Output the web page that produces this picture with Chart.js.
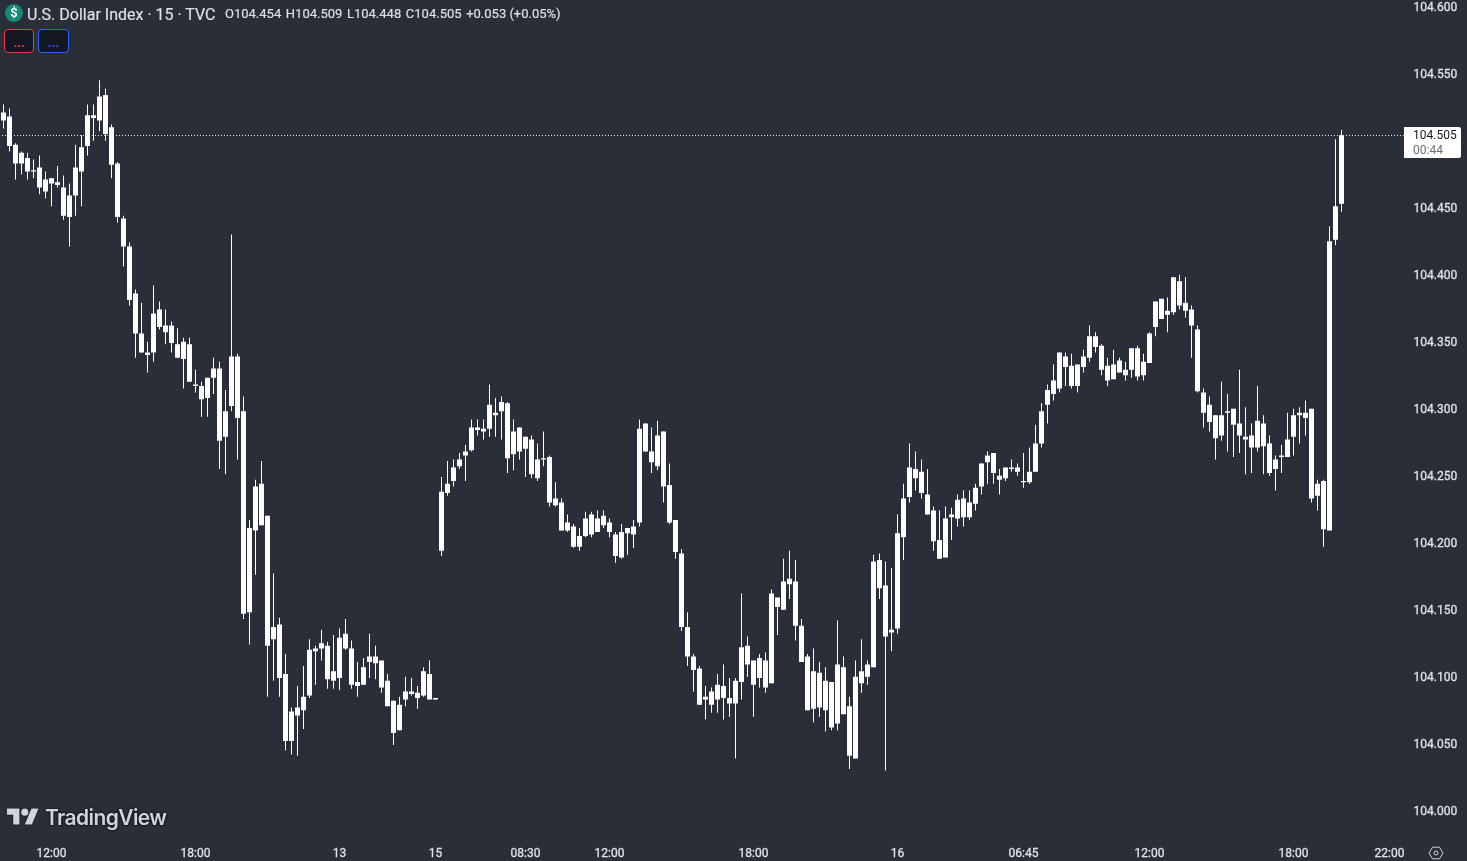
<!DOCTYPE html>
<html><head><meta charset="utf-8">
<script src="https://cdn.jsdelivr.net/npm/chart.js@4"></script>
<style>
html,body{margin:0;padding:0;background:#2a2e39;width:1467px;height:861px;overflow:hidden;font-family:Roboto,sans-serif}
#wrap{position:relative;width:1467px;height:861px}
canvas{position:absolute;left:0;top:0}
.abs{position:absolute;white-space:nowrap}
#badge{left:5px;top:4px;width:18px;height:18px;border-radius:50%;background:#168a76;color:#fff;font:700 13px/18px Roboto;text-align:center}
#title{left:27px;top:4.5px;font:400 16px/20px Roboto;color:#dfe1e8;-webkit-text-stroke:.15px #dfe1e8}
#ohlc{left:225px;top:5px;font:400 13px/18px Roboto;color:#dfe1e8;-webkit-text-stroke:.15px #dfe1e8}
#ohlc span{margin-right:4.6px}
.btn{top:29px;height:24px;box-sizing:border-box;border-radius:4px;background:#131722;font:700 13px/25px Roboto;text-align:center;border:1px solid}
#b1{left:4px;width:30px;border-color:#f23645;color:#f23645}
#b2{left:38px;width:31px;border-color:#2962ff;color:#2962ff}
#tvtext{left:45px;top:804px;font:600 21px/28px Inter;color:#d1d4dc;text-shadow:0 0 2px #131722,0 0 2px #131722,0 0 2px #131722,0 0 1px #131722;letter-spacing:-.6px}
#last{left:1404px;top:127px;width:57px;height:31px;background:#fff;border-radius:0 2px 2px 0}
#lastp{left:1413px;top:128px;font:400 12px/15px Roboto;color:#131722}
#lastt{left:1413px;top:143px;font:400 12px/15px Roboto;color:#6a6d78}
</style></head><body>
<div id="wrap">
<canvas id="c" width="1467" height="861"></canvas>
<div class="abs" id="badge">$</div>
<div class="abs" id="title">U.S. Dollar Index · 15 · TVC</div>
<div class="abs" id="ohlc"><span>O104.454</span><span>H104.509</span><span>L104.448</span><span>C104.505</span><span>+0.053 (+0.05%)</span></div>
<div class="abs btn" id="b1">...</div>
<div class="abs btn" id="b2">...</div>
<svg class="abs" style="left:7px;top:805px" width="32" height="25" viewBox="0 0 36 28"><g fill="#d1d4dc" stroke="#131722" stroke-width="1.5" paint-order="stroke"><path d="M14 22H7V11H0V4h14v18z"/><path d="M28 22h-8l7.5-18h8L28 22z"/><circle cx="20" cy="8" r="4"/></g></svg>
<div class="abs" id="tvtext">TradingView</div>
<div class="abs" id="last"></div>
<div class="abs" id="lastp">104.505</div>
<div class="abs" id="lastt">00:44</div>
<svg class="abs" style="left:1428px;top:845px" width="16" height="16" viewBox="0 0 16 16"><path d="M4.5 2.2h7L15 8l-3.5 5.8h-7L1 8z" fill="none" stroke="#d1d4dc" stroke-width="1"/><circle cx="8" cy="8" r="2" fill="none" stroke="#d1d4dc" stroke-width="1"/></svg>
</div>
<script>
const opens=[104.516,104.519,104.498,104.484,104.488,104.478,104.481,104.463,104.473,104.470,
104.466,104.444,104.460,104.478,104.497,104.518,104.516,104.535,104.511,104.484,
104.443,104.422,104.387,104.357,104.343,104.343,104.375,104.363,104.363,104.349,
104.338,104.349,104.319,104.318,104.309,104.324,104.331,104.280,104.303,104.340,
104.299,104.149,104.210,104.245,104.221,104.129,104.140,104.103,104.053,104.078,
104.076,104.087,104.120,104.122,104.124,104.098,104.100,104.133,104.122,104.094,
104.095,104.112,104.116,104.113,104.098,104.083,104.061,104.084,104.090,104.089,
104.087,104.103,104.084,104.195,104.238,104.247,104.258,104.266,104.270,104.287,
104.286,104.286,104.298,104.299,104.305,104.267,104.287,104.271,104.278,104.249,
104.263,104.265,104.229,104.231,104.210,104.213,104.198,104.206,104.222,104.209,
104.221,104.216,104.207,104.190,104.208,104.213,104.216,104.290,104.269,104.258,
104.284,104.244,104.218,104.193,104.138,104.116,104.107,104.084,104.090,104.084,
104.094,104.085,104.081,104.097,104.124,104.113,104.100,104.113,104.096,104.160,
104.151,104.170,104.172,104.139,104.116,104.077,104.104,104.076,104.097,104.066,
104.108,104.079,104.040,104.096,104.101,104.108,104.188,104.169,104.134,104.137,
104.205,104.235,104.256,104.254,104.237,104.225,104.203,104.190,104.220,104.219,
104.234,104.220,104.230,104.243,104.261,104.268,104.251,104.249,104.257,104.257,
104.247,104.246,104.254,104.275,104.304,104.312,104.316,104.340,104.333,104.318,
104.332,104.339,104.355,104.348,104.333,104.323,104.337,104.330,104.330,104.346,
104.326,104.335,104.362,104.383,104.371,104.373,104.396,104.380,104.375,104.360,
104.313,104.304,104.296,104.281,104.298,104.301,104.290,104.280,104.281,104.272,
104.290,104.275,104.256,104.265,104.265,104.280,104.296,104.298,104.301,104.236,
104.247,104.210,104.427,104.454];
const highs=[104.528,104.525,104.499,104.493,104.492,104.487,104.490,104.478,104.473,104.482,
104.475,104.469,104.498,104.505,104.528,104.528,104.546,104.540,104.513,104.485,
104.445,104.425,104.390,104.380,104.351,104.393,104.381,104.375,104.366,104.361,
104.354,104.354,104.330,104.321,104.324,104.339,104.336,104.315,104.431,104.342,
104.310,104.218,104.248,104.262,104.221,104.178,104.145,104.118,104.078,104.094,
104.109,104.129,104.124,104.136,104.127,104.132,104.137,104.144,104.128,104.112,
104.115,104.133,104.124,104.113,104.103,104.083,104.086,104.101,104.100,104.094,
104.108,104.113,104.085,104.250,104.262,104.263,104.268,104.274,104.293,104.293,
104.293,104.319,104.309,104.310,104.306,104.293,104.287,104.280,104.281,104.275,
104.284,104.266,104.246,104.234,104.222,104.215,104.212,104.224,104.224,104.225,
104.225,104.219,104.209,104.215,104.212,104.218,104.293,104.290,104.287,104.292,
104.284,104.260,104.218,104.196,104.149,104.118,104.109,104.094,104.093,104.103,
104.110,104.100,104.100,104.163,104.131,104.113,104.118,104.119,104.166,104.160,
104.189,104.195,104.188,104.144,104.118,104.122,104.112,104.108,104.097,104.143,
104.116,104.086,104.113,104.129,104.113,104.192,104.193,104.187,104.182,104.222,
104.245,104.275,104.269,104.263,104.256,104.228,104.225,104.228,104.227,104.237,
104.240,104.240,104.245,104.260,104.269,104.268,104.256,104.257,104.263,104.260,
104.268,104.272,104.289,104.305,104.319,104.334,104.343,104.343,104.342,104.334,
104.345,104.363,104.358,104.349,104.339,104.345,104.339,104.336,104.346,104.348,
104.342,104.358,104.381,104.383,104.384,104.399,104.401,104.399,104.378,104.363,
104.316,104.310,104.296,104.321,104.312,104.301,104.330,104.302,104.290,104.318,
104.296,104.281,104.266,104.274,104.298,104.301,104.302,104.307,104.301,104.248,
104.248,104.437,104.502,104.509];
const lows=[104.510,104.493,104.472,104.476,104.472,104.473,104.461,104.458,104.452,104.466,
104.442,104.422,104.445,104.452,104.490,104.501,104.508,104.501,104.473,104.440,
104.407,104.378,104.339,104.343,104.328,104.336,104.360,104.349,104.343,104.339,
104.316,104.321,104.313,104.295,104.295,104.312,104.256,104.252,104.299,104.263,
104.144,104.125,104.177,104.214,104.086,104.098,104.086,104.046,104.043,104.042,
104.062,104.085,104.095,104.113,104.092,104.092,104.091,104.121,104.092,104.086,
104.095,104.100,104.099,104.089,104.079,104.050,104.061,104.079,104.087,104.077,
104.086,104.084,104.084,104.191,104.236,104.243,104.256,104.247,104.269,104.281,
104.278,104.280,104.280,104.278,104.253,104.255,104.263,104.250,104.249,104.247,
104.258,104.228,104.228,104.210,104.209,104.197,104.195,104.205,104.205,104.209,
104.212,104.205,104.186,104.189,104.192,104.197,104.213,104.269,104.253,104.255,
104.231,104.215,104.189,104.135,104.109,104.090,104.080,104.069,104.074,104.074,
104.069,104.071,104.040,104.084,104.101,104.071,104.093,104.089,104.096,104.132,
104.151,104.159,104.128,104.112,104.076,104.067,104.071,104.060,104.061,104.061,
104.073,104.032,104.040,104.089,104.095,104.108,104.159,104.031,104.120,104.133,
104.188,104.231,104.240,104.234,104.222,104.195,104.189,104.190,104.203,104.213,
104.213,104.218,104.225,104.237,104.245,104.245,104.237,104.247,104.254,104.251,
104.242,104.245,104.254,104.272,104.290,104.307,104.313,104.318,104.316,104.313,
104.328,104.336,104.343,104.326,104.318,104.323,104.328,104.322,104.324,104.322,
104.322,104.335,104.355,104.368,104.358,104.371,104.375,104.369,104.339,104.313,
104.287,104.284,104.263,104.277,104.269,104.265,104.268,104.252,104.253,104.269,
104.252,104.251,104.240,104.253,104.265,104.266,104.275,104.281,104.231,104.225,
104.198,104.210,104.423,104.448];
const closes=[104.522,104.497,104.484,104.492,104.478,104.479,104.466,104.472,104.469,104.468,
104.445,104.460,104.481,104.496,104.520,104.520,104.534,104.506,104.483,104.444,
104.422,104.382,104.357,104.343,104.341,104.372,104.362,104.358,104.350,104.339,
104.351,104.321,104.318,104.308,104.324,104.331,104.277,104.299,104.340,104.294,
104.148,104.212,104.243,104.214,104.124,104.138,104.100,104.053,104.075,104.072,
104.086,104.121,104.122,104.126,104.099,104.105,104.130,104.122,104.095,104.097,
104.108,104.116,104.111,104.093,104.079,104.059,104.080,104.090,104.088,104.085,
104.105,104.084,104.085,104.239,104.245,104.257,104.263,104.269,104.287,104.285,
104.284,104.304,104.296,104.306,104.264,104.284,104.269,104.280,104.252,104.263,
104.264,104.231,104.234,104.210,104.216,104.198,104.206,104.219,104.207,104.219,
104.214,104.209,104.191,104.209,104.212,104.207,104.286,104.269,104.261,104.281,
104.243,104.216,104.194,104.138,104.116,104.106,104.080,104.086,104.080,104.095,
104.085,104.081,104.098,104.123,104.110,104.095,104.115,104.093,104.163,104.153,
104.172,104.174,104.139,104.112,104.076,104.105,104.078,104.098,104.063,104.110,
104.073,104.042,104.101,104.105,104.110,104.187,104.167,104.131,104.136,104.208,
104.234,104.257,104.249,104.238,104.222,104.202,104.189,104.219,104.222,104.233,
104.220,104.231,104.242,104.260,104.266,104.253,104.248,104.257,104.256,104.254,
104.246,104.254,104.275,104.299,104.315,104.322,104.343,104.332,104.318,104.334,
104.340,104.355,104.347,104.330,104.322,104.334,104.328,104.326,104.346,104.325,
104.336,104.357,104.381,104.368,104.374,104.399,104.378,104.374,104.363,104.314,
104.298,104.291,104.279,104.296,104.299,104.289,104.281,104.278,104.272,104.292,
104.273,104.253,104.263,104.266,104.278,104.296,104.298,104.294,104.234,104.245,
104.211,104.426,104.452,104.505];
const priceTicks=[104,104.05,104.1,104.15,104.2,104.25,104.3,104.35,104.4,104.45,104.55,104.6];
const timeTickSlots=[8,32,56,72,87,101,125,149,170,191,215,231];
const timeTickLabels=['12:00','18:00','13','15','08:30','12:00','18:00','16','06:45','12:00','18:00','22:00'];
const lastPrice=104.505;
const slotCount=234;

const slots=Array.from({length:slotCount},(_,i)=>i);
const wicks=lows.map((l,i)=>[l,highs[i]]);
const bodies=opens.map((o,i)=>[o,closes[i]]);

const priceLine={id:'priceLine',beforeDatasetsDraw(ch){
  const g=ch.ctx,y=Math.floor(ch.scales.y.getPixelForValue(lastPrice))+.5;
  g.save();g.strokeStyle='#e8eaf0';g.lineWidth=1;g.setLineDash([1,2]);
  g.beginPath();g.moveTo(2,y);g.lineTo(ch.chartArea.right,y);g.stroke();g.restore();
}};
const bg={id:'bg',beforeDraw(ch){const g=ch.ctx;g.fillStyle='#2a2e39';g.fillRect(0,0,ch.width,ch.height);}};

new Chart(document.getElementById('c'),{
  type:'bar',
  data:{labels:slots,datasets:[
    {data:wicks,backgroundColor:'#ffffff',barThickness:1,grouped:false,inflateAmount:0,borderWidth:0},
    {data:bodies,backgroundColor:'#ffffff',barThickness:5,grouped:false,inflateAmount:0,borderWidth:0}
  ]},
  plugins:[bg,priceLine],
  options:{
    responsive:false,animation:false,
    layout:{padding:{left:.5,top:0,right:0,bottom:0}},
    plugins:{legend:{display:false},tooltip:{enabled:false}},
    scales:{
      x:{type:'category',grid:{display:false,drawTicks:false},border:{display:false},
        afterFit(s){s.height=25;s.paddingLeft=0;s.paddingRight=0;},
        ticks:{autoSkip:false,maxRotation:0,padding:11,color:'#dfe1e8',textStrokeColor:'#dfe1e8',textStrokeWidth:.3,font:{family:'Roboto',size:12},
          callback(v,i){const k=timeTickSlots.indexOf(i);return k>=0?timeTickLabels[k]:null;}}},
      y:{position:'right',min:104-24/1340,max:104+812/1340,grid:{display:false,drawTicks:false},border:{display:false},
        afterFit(s){s.width=62.5;s.paddingTop=0;s.paddingBottom=0;},
        afterBuildTicks(s){s.ticks=priceTicks.map(v=>({value:v}));},
        ticks:{padding:9,color:'#dfe1e8',textStrokeColor:'#dfe1e8',textStrokeWidth:.3,font:{family:'Roboto',size:12},callback(v){return Number(v).toFixed(3);}}}
    }
  }
});
</script>
</body></html>
